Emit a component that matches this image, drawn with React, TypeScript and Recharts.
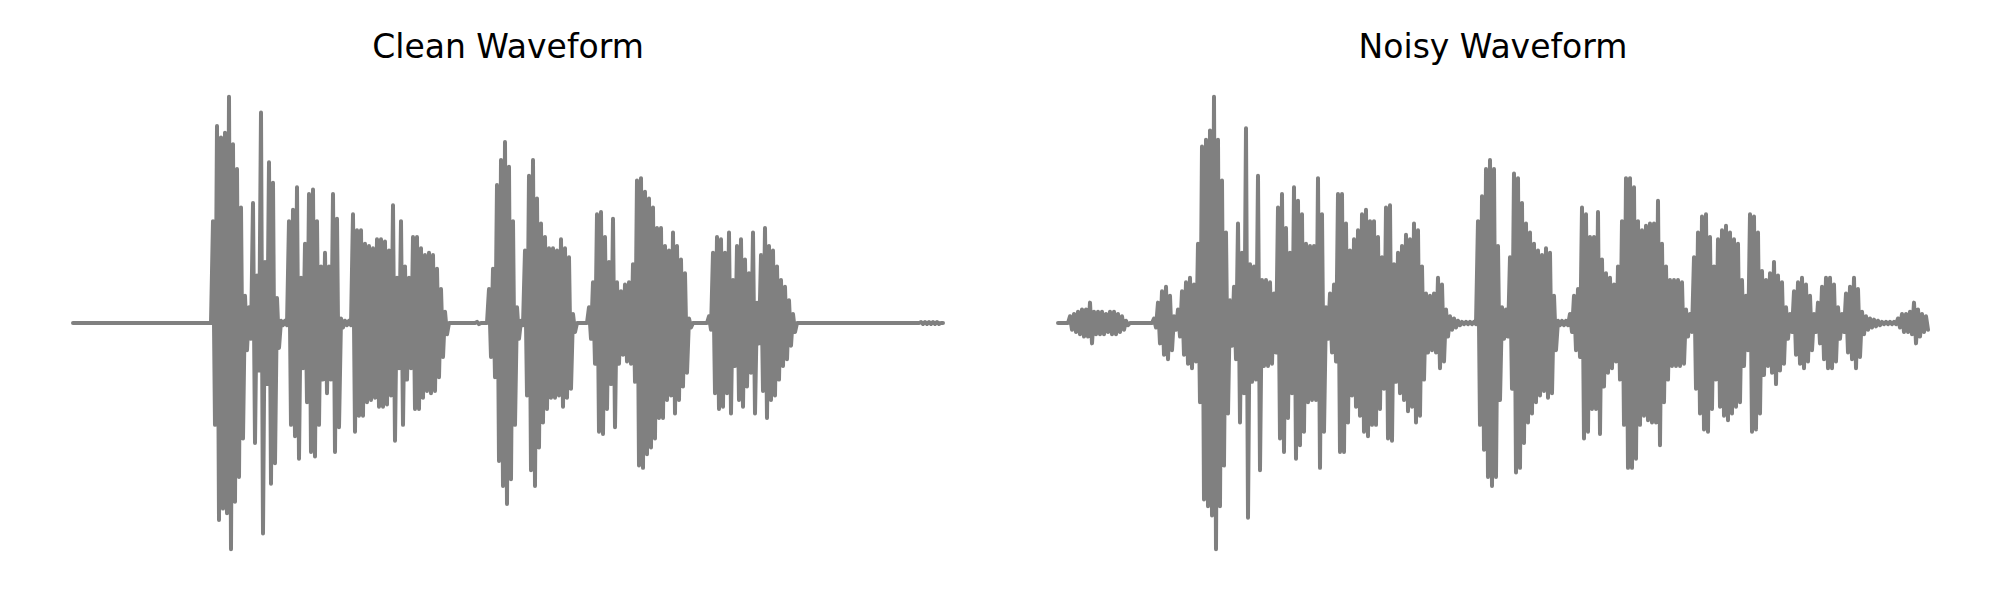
import React from 'react';
import { LineChart, Line, XAxis, YAxis } from 'recharts';

// envelope amplitude per 4px column (symmetric around zero), peak ~1.0
const CLEAN_AMP = [
  0, 0, 0, 0, 0, 0, 0, 0, 0, 0, 0, 0, 0, 0, 0, 0, 0, 0, 0, 0,
  0, 0, 0, 0, 0, 0, 0, 0, 0, 0, 0, 0, 0, 0, 0,
  0.45, 0.87, 0.82, 0.84, 1.0, 0.79, 0.68, 0.51, 0.12, 0.07,
  0.53, 0.21, 0.93, 0.27, 0.71, 0.62, 0.11, 0.01, 0.01, 0.45,
  0.5, 0.6, 0.2, 0.35, 0.57, 0.59, 0.45, 0.25, 0.31, 0.25,
  0.57, 0.46, 0.02, 0.01, 0.01, 0.48, 0.41, 0.41, 0.35, 0.34,
  0.33, 0.37, 0.37, 0.36, 0.32, 0.52, 0.2, 0.45, 0.25, 0.2,
  0.38, 0.38, 0.33, 0.3, 0.31, 0.3, 0.24, 0.15, 0.05,
  0, 0, 0, 0, 0, 0, 0, 0.005, 0, 0,
  0.15, 0.24, 0.61, 0.72, 0.8, 0.69, 0.45, 0.07, 0.01, 0.32,
  0.65, 0.72, 0.55, 0.44, 0.38, 0.33, 0.33, 0.32, 0.37, 0.33,
  0.29, 0.04, 0, 0, 0, 0.07, 0.18, 0.48, 0.49, 0.38,
  0.27, 0.46, 0.18, 0.14, 0.17, 0.18, 0.26, 0.63, 0.64, 0.58,
  0.55, 0.51, 0.42, 0.42, 0.34, 0.32, 0.4, 0.34, 0.28, 0.22,
  0.02,
  0, 0, 0, 0,
  0.03, 0.31, 0.38, 0.37, 0.31, 0.4, 0.19, 0.34, 0.37, 0.28,
  0.22, 0.4, 0.09, 0.3, 0.42, 0.34, 0.32, 0.25, 0.19, 0.16,
  0.1, 0.04,
  0, 0, 0, 0, 0, 0, 0, 0, 0, 0, 0, 0, 0, 0, 0, 0,
  0, 0, 0, 0, 0, 0, 0, 0, 0, 0, 0, 0, 0, 0, 0,
  0.004, 0.004, 0.004, 0.004, 0.004, 0,
];

const NOISY_AMP = [
  0, 0, 0, 0.03, 0.04, 0.05, 0.06, 0.06, 0.09, 0.05,
  0.05, 0.05, 0.04, 0.05, 0.05, 0.04, 0.03, 0.01,
  0, 0, 0, 0, 0, 0,
  0.02, 0.09, 0.14, 0.16, 0.12, 0.03, 0.06, 0.14, 0.18, 0.2,
  0.17, 0.35, 0.78, 0.81, 0.85, 1.0, 0.81, 0.63, 0.4, 0.1,
  0.16, 0.44, 0.31, 0.86, 0.26, 0.25, 0.65, 0.19, 0.19, 0.18,
  0.13, 0.51, 0.57, 0.42, 0.31, 0.6, 0.54, 0.48, 0.35, 0.34,
  0.34, 0.64, 0.48, 0.07, 0.13, 0.17, 0.57, 0.57, 0.44, 0.32,
  0.37, 0.41, 0.48, 0.5, 0.45, 0.45, 0.38, 0.29, 0.51, 0.52,
  0.26, 0.31, 0.34, 0.39, 0.37, 0.44, 0.41, 0.25, 0.13, 0.12,
  0.13, 0.2, 0.17, 0.06, 0.03, 0.02, 0.01,
  0.005, 0.005, 0.005, 0.005,
  0.45, 0.56, 0.68, 0.72, 0.68, 0.34, 0.07, 0.06, 0.29, 0.66,
  0.64, 0.53, 0.44, 0.4, 0.35, 0.32, 0.3, 0.33, 0.31, 0.12,
  0.01, 0.01, 0.01, 0.04, 0.12, 0.15, 0.51, 0.48, 0.38, 0.38,
  0.49, 0.28, 0.22, 0.2, 0.17, 0.25, 0.45, 0.64, 0.64, 0.6,
  0.45, 0.41, 0.43, 0.44, 0.44, 0.54, 0.35, 0.25, 0.19, 0.19,
  0.19, 0.18, 0.06, 0.04, 0.29, 0.4, 0.47, 0.48, 0.38, 0.25,
  0.37, 0.41, 0.43, 0.4, 0.37, 0.35, 0.19, 0.12, 0.48, 0.47,
  0.4, 0.23, 0.19, 0.22, 0.27, 0.21, 0.18, 0.07, 0.04, 0.14,
  0.18, 0.2, 0.17, 0.12, 0.04, 0.09, 0.16, 0.2, 0.2, 0.17,
  0.07, 0.04, 0.13, 0.16, 0.2, 0.15, 0.05, 0.03, 0.02, 0.015,
  0.01,
  0.005, 0.005, 0.005, 0.005,
  0.02, 0.04, 0.04, 0.05, 0.09, 0.06, 0.04, 0.03,
];

const TITLES = ['Clean Waveform', 'Noisy Waveform'];

// each column becomes an up and a down sample, so the line zigzags over the envelope
const toTrace = (amp: number[]) => {
  const rows: { t: number; v: number }[] = [];
  amp.forEach((a, i) => {
    rows.push({ t: i, v: a });
    rows.push({ t: i + 0.5, v: -a });
  });
  return rows;
};

interface PanelProps {
  title: string;
  amp: number[];
  offset: number;
  marginLeft: number;
  marginRight: number;
}

const PLOT_W = 1000;

const WavePanel: React.FC<PanelProps> = ({ title, amp, offset, marginLeft, marginRight }) => {
  const data = toTrace(amp);
  return (
    <div style={{ position: 'absolute', left: offset, top: 0, width: PLOT_W, height: 600 }}>
      <div
        style={{
          position: 'absolute',
          left: marginLeft,
          width: PLOT_W - marginLeft - marginRight,
          top: 27,
          textAlign: 'center',
          fontFamily: '"DejaVu Sans", sans-serif',
          fontSize: 33,
          color: '#000',
          whiteSpace: 'nowrap',
        }}
      >
        {title}
      </div>
      <LineChart
        width={PLOT_W}
        height={600}
        data={data}
        margin={{ top: 74, bottom: 28, left: marginLeft, right: marginRight }}
      >
        <XAxis type="number" dataKey="t" domain={[0, amp.length - 0.5]} hide />
        <YAxis type="number" domain={[-1.1, 1.1]} hide />
        <Line
          type="linear"
          dataKey="v"
          stroke="#808080"
          strokeWidth={4}
          strokeLinejoin="round"
          strokeLinecap="round"
          dot={false}
          activeDot={false}
          isAnimationActive={false}
        />
      </LineChart>
    </div>
  );
};

export default function App() {
  return (
    <div style={{ position: 'absolute', left: 0, top: 0, width: 2000, height: 600, background: '#fff' }}>
      <WavePanel title={TITLES[0]} amp={CLEAN_AMP} offset={0} marginLeft={73} marginRight={57} />
      <WavePanel title={TITLES[1]} amp={NOISY_AMP} offset={1000} marginLeft={58} marginRight={72} />
    </div>
  );
}
